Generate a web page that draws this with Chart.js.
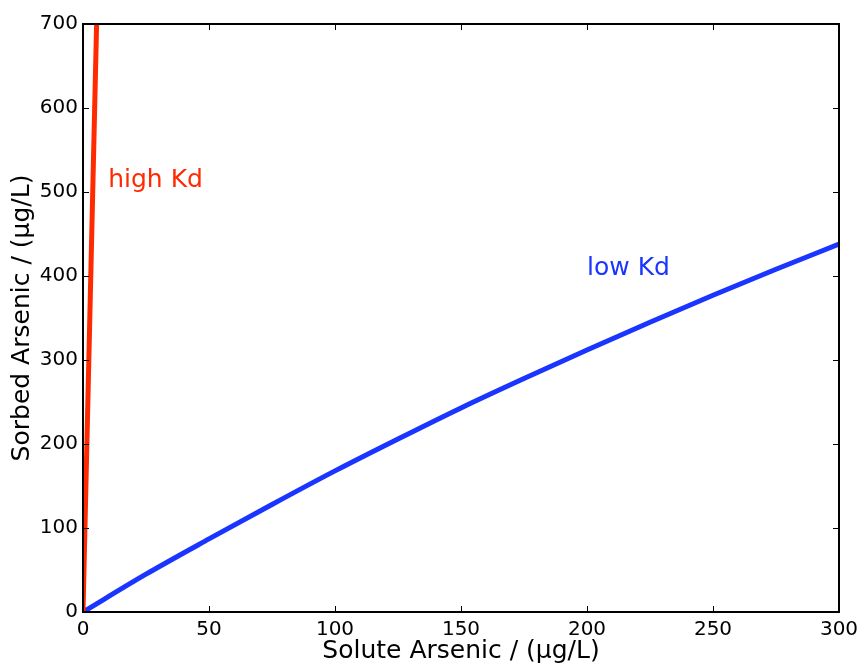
<!DOCTYPE html>
<html lang="en">
<head>
    <meta charset="UTF-8">
    <title>Sorbed vs Solute Arsenic</title>
    <script src="https://cdn.jsdelivr.net/npm/chart.js@4.4.1/dist/chart.umd.min.js"></script>
    <style>
        html, body {
            margin: 0;
            padding: 0;
            background: #fff;
        }
    </style>
</head>
<body>
    <canvas id="myChart" width="861" height="664"></canvas>

    <script>
        // values
        const lowKdX = [0, 25, 50, 75, 100, 125, 150, 175, 200, 225, 250, 275, 300];
        const lowKdY = [0, 45, 87, 128, 168, 206, 243, 278, 312, 345, 377, 408, 438];
        const highKdX = [0, 2.7, 5.4];
        const highKdY = [0, 350, 700];

        const xTicks = [0, 50, 100, 150, 200, 250, 300];
        const yTicks = [0, 100, 200, 300, 400, 500, 600, 700];

        const RED = '#ff2a00';
        const BLUE = '#1a35ff';
        const FONT = "'DejaVu Sans', sans-serif";

        const labels = [
            { text: 'high Kd', x: 10, y: 506, color: RED },
            { text: 'low Kd', x: 200, y: 401, color: BLUE }
        ];

        // frame, inward ticks on all four sides, text labels
        const framePlugin = {
            id: 'frame',
            afterDatasetsDraw(chart) {
                const { ctx, chartArea: a, scales: { x, y } } = chart;
                ctx.save();
                ctx.strokeStyle = '#000';
                ctx.lineWidth = 1;
                const len = 6;
                ctx.beginPath();
                xTicks.forEach(v => {
                    const px = Math.round(x.getPixelForValue(v)) + 0.5;
                    ctx.moveTo(px, a.bottom); ctx.lineTo(px, a.bottom - len);
                    ctx.moveTo(px, a.top); ctx.lineTo(px, a.top + len);
                });
                yTicks.forEach(v => {
                    const py = Math.round(y.getPixelForValue(v)) + 0.5;
                    ctx.moveTo(a.left, py); ctx.lineTo(a.left + len, py);
                    ctx.moveTo(a.right, py); ctx.lineTo(a.right - len, py);
                });
                ctx.stroke();

                ctx.lineWidth = 2;
                ctx.strokeRect(a.left, a.top, a.right - a.left, a.bottom - a.top);

                ctx.font = '25px ' + FONT;
                ctx.textAlign = 'left';
                ctx.textBaseline = 'alphabetic';
                labels.forEach(l => {
                    ctx.fillStyle = l.color;
                    ctx.fillText(l.text, x.getPixelForValue(l.x), y.getPixelForValue(l.y));
                });
                ctx.restore();
            }
        };

        const ctx = document.getElementById('myChart').getContext('2d');
        new Chart(ctx, {
            type: 'line',
            data: {
                datasets: [
                    {
                        label: 'high Kd',
                        data: highKdX.map((v, i) => ({ x: v, y: highKdY[i] })),
                        borderColor: RED,
                        borderWidth: 5,
                        pointRadius: 0,
                        tension: 0
                    },
                    {
                        label: 'low Kd',
                        data: lowKdX.map((v, i) => ({ x: v, y: lowKdY[i] })),
                        borderColor: BLUE,
                        borderWidth: 5,
                        pointRadius: 0,
                        cubicInterpolationMode: 'monotone'
                    }
                ]
            },
            options: {
                responsive: false,
                animation: false,
                layout: {
                    padding: { top: 24, right: 22, left: 0, bottom: 0 }
                },
                scales: {
                    x: {
                        type: 'linear',
                        min: 0,
                        max: 300,
                        afterFit: s => {
                            s.height = 52;
                            s.paddingLeft = 0;
                            s.paddingRight = 0;
                        },
                        afterBuildTicks: s => { s.ticks = xTicks.map(v => ({ value: v })); },
                        grid: { display: false, drawTicks: false },
                        border: { display: false },
                        ticks: {
                            padding: 6,
                            color: '#000',
                            autoSkip: false,
                            font: { family: FONT, size: 20 },
                            maxRotation: 0
                        },
                        title: {
                            display: true,
                            text: 'Solute Arsenic / (\u03bcg/L)',
                            color: '#000',
                            font: { family: FONT, size: 25, lineHeight: 1.0 },
                            padding: 0
                        }
                    },
                    y: {
                        min: 0,
                        max: 700,
                        afterFit: s => {
                            s.width = 83;
                            s.paddingTop = 0;
                            s.paddingBottom = 0;
                        },
                        afterBuildTicks: s => { s.ticks = yTicks.map(v => ({ value: v })); },
                        grid: { display: false, drawTicks: false },
                        border: { display: false },
                        ticks: {
                            padding: 5,
                            color: '#000',
                            autoSkip: false,
                            font: { family: FONT, size: 20 }
                        },
                        title: {
                            display: true,
                            text: 'Sorbed Arsenic / (\u03bcg/L)',
                            color: '#000',
                            font: { family: FONT, size: 25, lineHeight: 1.0 },
                            padding: { top: 10, bottom: 0 }
                        }
                    }
                },
                plugins: {
                    legend: { display: false },
                    tooltip: { enabled: false }
                }
            },
            plugins: [framePlugin]
        });
    </script>
</body>
</html>
